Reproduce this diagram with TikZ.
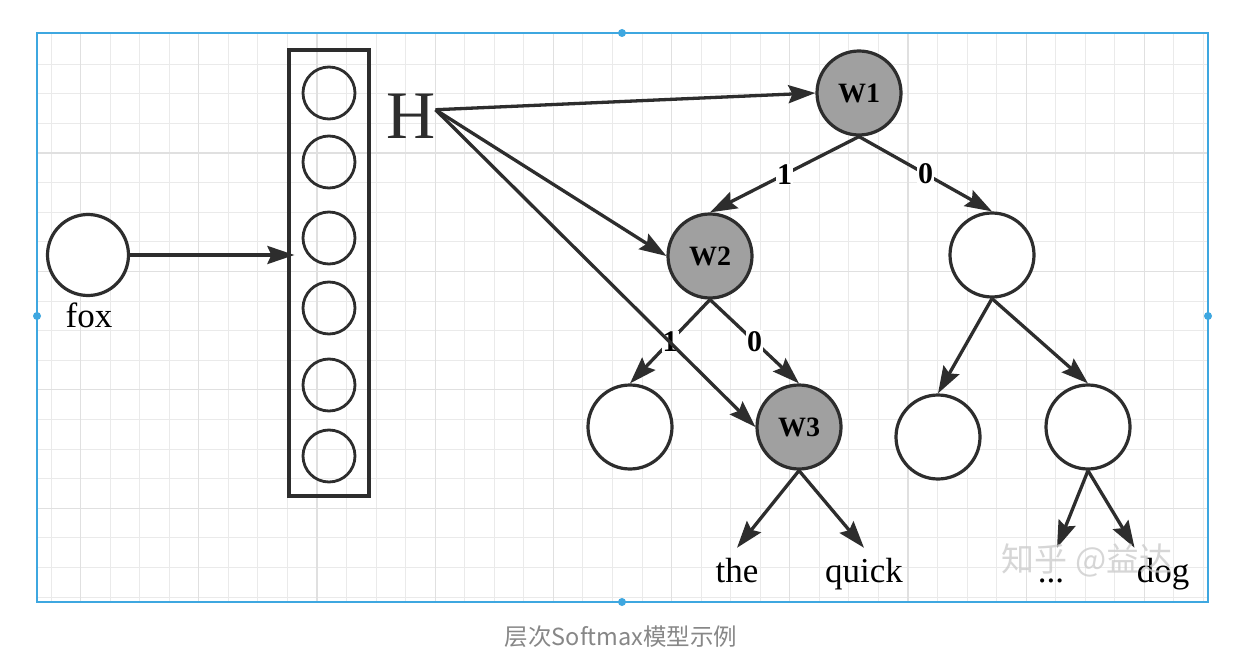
\documentclass[tikz,border=0pt]{standalone}
\usepackage{fontspec}
\setmainfont{Liberation Serif}
\newfontfamily\cjk{Noto Sans CJK SC}
\usetikzlibrary{arrows.meta}
\definecolor{inkgray}{RGB}{45,45,45}
\definecolor{nodegray}{RGB}{160,160,160}
\definecolor{gridline}{RGB}{234,234,234}
\definecolor{gridmajor}{RGB}{224,224,224}
\definecolor{frameblue}{RGB}{62,167,224}
\definecolor{capgray}{RGB}{135,135,135}
\tikzset{
  unit/.style = {circle, draw=inkgray, line width=3.2pt, fill=white,
                 minimum size=84pt, inner sep=0pt},
  hid/.style  = {unit, fill=nodegray, font=\fontsize{28}{30}\selectfont\bfseries},
  cell/.style = {circle, draw=inkgray, line width=2.8pt,
                 minimum size=52pt, inner sep=0pt},
  word/.style = {font=\fontsize{35}{40}\selectfont, anchor=base,
                 text height=24pt, text depth=8pt, inner ysep=10pt, inner xsep=2pt},
  arr/.style  = {-{Stealth[length=27pt,width=18pt,inset=4pt]}, line width=3.3pt, draw=inkgray},
  bit/.style  = {font=\fontsize{30}{32}\selectfont\bfseries, fill=white,
                 inner sep=1pt, midway}
}

\begin{document}
\begin{tikzpicture}[x=1pt,y=-1pt]
  \useasboundingbox[fill=white] (0,0) rectangle (1244,668);

  % grid paper
  \foreach \k in {0,...,39}
    \draw[gridline, line width=1pt] ({51+29.55*\k},33) -- ({51+29.55*\k},602);
  \foreach \k in {0,...,18}
    \draw[gridline, line width=1pt] (37,{64.2+29.6*\k}) -- (1208,{64.2+29.6*\k});
  \foreach \k in {0,...,9}
    \draw[gridmajor, line width=1.2pt] ({80.55+118.2*\k},33) -- ({80.55+118.2*\k},602);
  \foreach \k in {0,...,3}
    \draw[gridmajor, line width=1.2pt] (37,{153+118.4*\k}) -- (1208,{153+118.4*\k});
  \draw[frameblue, line width=2pt] (37,33) rectangle (1208,602);
  \foreach \p in {(37,316),(1208,316),(622,33),(622,602)}
    \fill[frameblue] \p circle (4pt);

  % input word and hidden vector
  \node[unit, minimum size=81pt] (fox) at (88,255) {};
  \node[word] (foxlab) at (89,327) {fox};
  \node[draw=inkgray, line width=3.2pt, minimum width=80pt, minimum height=446pt,
        inner sep=0pt] (vec) at (329,273) {};
  \foreach \y [count=\i] in {93,162,238,308,385,456}
    \node[cell] (c\i) at (329,\y) {};
  \node[font=\fontsize{68}{70}\selectfont, inner sep=0pt, anchor=base west,
        text=inkgray] (H) at (386,139) {H};
  \coordinate (hout) at ([yshift=7pt]H.east);

  % huffman tree
  \node[hid]  (W1) at (859,93)  {W1};
  \node[hid]  (W2) at (710,256) {W2};
  \node[unit] (R)  at (992,255) {};
  \node[unit] (L)  at (630,427) {};
  \node[hid]  (W3) at (799,427) {W3};
  \node[unit] (RL) at (938,437) {};
  \node[unit] (RR) at (1088,427) {};

  \node[word] (the)   at (737,582)  {the};
  \node[word] (quick) at (864,582)  {quick};
  \node[word] (dots)  at (1051,582) {...};
  \node[word] (dog)   at (1163,582) {dog};

  \draw[arr] (fox) -- ([xshift=7pt]fox -| vec.west);
  \draw[arr] (W1.south) -- node[bit]{1} (W2.north);
  \draw[arr] (W1.south) -- node[bit]{0} (R.north);
  \draw[arr] (W2.south) -- node[bit]{1} (L.north);
  \draw[arr] (W2.south) -- node[bit]{0} (W3.north);
  \draw[arr] (R.south) -- (RL.north);
  \draw[arr] (R.south) -- (RR.north);
  \draw[arr] (W3.south) -- (the.north);
  \draw[arr] (W3.south) -- (quick.north);
  \draw[arr] (RR.south) -- ([xshift=6pt]dots.north);
  \draw[arr] (RR.south) -- (dog.north west);

  \draw[arr] (hout) -- (W1.west);
  \draw[arr] (hout) -- (W2.west);
  \draw[arr] (hout) -- (W3.west);

  \node[font=\cjk\fontsize{33}{35}\selectfont, text=gray!40, opacity=.8]
    (mark) at (1087,560) {知乎 @益达};
  \node[font=\cjk\fontsize{23.5}{25}\selectfont, text=capgray] (cap) at (621,637)
    {层次Softmax模型示例};
\end{tikzpicture}
\end{document}
